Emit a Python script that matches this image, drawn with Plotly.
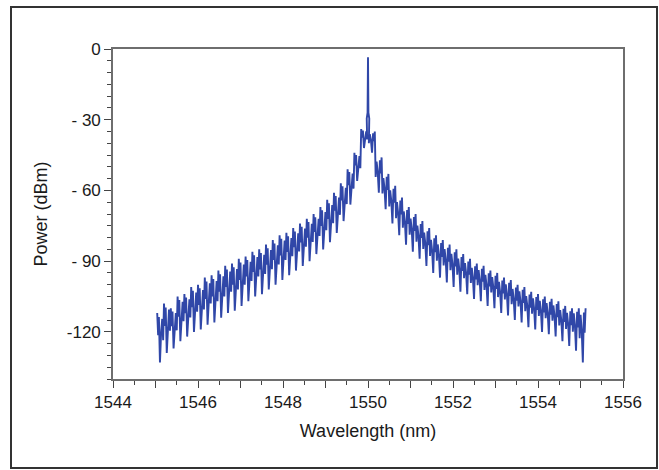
import plotly.graph_objects as go

# ---- data ----
carrier_wl = 1550.00
carrier_peak = -3.5
carrier_base = -27.0
carrier_shoulder = -29.5

left_wl = [1545.04, 1545.20, 1545.36, 1545.52, 1545.68, 1545.84, 1546.00, 1546.16,
           1546.32, 1546.48, 1546.64, 1546.80, 1546.96, 1547.12, 1547.28, 1547.44,
           1547.60, 1547.76, 1547.92, 1548.08, 1548.24, 1548.40, 1548.56, 1548.72,
           1548.88, 1549.04, 1549.20, 1549.36, 1549.52, 1549.68, 1549.84]
left_upper = [-112, -108, -110, -105, -104, -101, -100, -97, -96, -94, -92, -91, -89, -88,
              -86, -85, -83, -81, -79, -78, -76, -74, -72, -70, -67, -64, -61, -57, -51,
              -44, -34]
left_lower = [-133, -129, -127, -124, -122, -120, -119, -117, -116, -114, -112, -111, -109,
              -107, -105, -104, -102, -100, -98, -96, -94, -92, -90, -87, -85, -82, -78,
              -73, -66, -56, -42]

right_wl = [1550.16, 1550.32, 1550.48, 1550.64, 1550.80, 1550.96, 1551.12, 1551.28,
            1551.44, 1551.60, 1551.76, 1551.92, 1552.08, 1552.24, 1552.40, 1552.56,
            1552.72, 1552.88, 1553.04, 1553.20, 1553.36, 1553.52, 1553.68, 1553.84,
            1554.00, 1554.16, 1554.32, 1554.48, 1554.64, 1554.80, 1554.96, 1555.12]
right_upper = [-35, -46, -53, -58, -63, -67, -70, -73, -76, -79, -81, -83, -85, -87, -89,
               -91, -92, -94, -95, -97, -98, -100, -101, -103, -104, -105, -106, -107,
               -109, -110, -110, -110]
right_lower = [-44, -61, -68, -74, -79, -83, -86, -89, -92, -95, -97, -99, -101, -103, -104,
               -106, -107, -109, -110, -112, -113, -115, -116, -118, -119, -120, -121, -122,
               -124, -126, -128, -133]

x_tick_vals = [1544, 1545, 1546, 1547, 1548, 1549, 1550, 1551, 1552, 1553, 1554, 1555, 1556]
x_tick_text = ["1544", "", "1546", "", "1548", "", "1550", "", "1552", "", "1554", "", "1556"]
y_tick_vals = [0, -30, -60, -90, -120]
y_tick_text = ["0", "- 30", "- 60", "- 90", "-120"]

# ---- drawing style: fine structure inside one comb period ----
# (offset in nm from the tooth, fraction of the way from peak to dip)
PERIOD_SHAPE = [(0.000, 0.00), (0.022, 0.45), (0.040, 0.08), (0.065, 1.00),
                (0.092, 0.40), (0.118, 0.12), (0.140, 0.55)]

xs, ys = [], []
for w, u, l in zip(left_wl, left_upper, left_lower):
    for off, frac in PERIOD_SHAPE:
        xs.append(w + off)
        ys.append(u + frac * (l - u))
xs += [carrier_wl - 0.03, carrier_wl - 0.01, carrier_wl, carrier_wl + 0.01, carrier_wl + 0.03]
ys += [carrier_shoulder, carrier_base, carrier_peak, carrier_base, carrier_shoulder]
for w, u, l in zip(right_wl, right_upper, right_lower):
    for off, frac in reversed(PERIOD_SHAPE):
        xs.append(w - off)
        ys.append(u + frac * (l - u))

fig = go.Figure()
fig.add_trace(go.Scatter(x=xs, y=ys, mode="lines",
                         line=dict(color="#3047a8", width=1.9),
                         hoverinfo="skip", showlegend=False))

font_family = "Liberation Sans, Arial, sans-serif"
axis_common = dict(showline=True, linecolor="#6e6e6e", linewidth=1.6, mirror=True,
                   ticks="outside", tickcolor="#444", tickwidth=1.2, ticklen=7,
                   showgrid=False, zeroline=False,
                   tickfont=dict(family=font_family, size=17, color="#1a1a1a"))

fig.update_layout(
    width=659, height=470,
    margin=dict(l=113, r=36, t=49, b=91),
    paper_bgcolor="white", plot_bgcolor="white",
    xaxis=dict(range=[1544, 1556], tickmode="array", tickvals=x_tick_vals,
               ticktext=x_tick_text,
               minor=dict(dtick=0.5, tick0=1544, ticks="outside", ticklen=4,
                          tickcolor="#444", tickwidth=1),
               title=dict(text="Wavelength (nm)", standoff=13,
                          font=dict(family=font_family, size=18, color="#1a1a1a")),
               **axis_common),
    yaxis=dict(range=[-140, 0], tickmode="array", tickvals=y_tick_vals,
               ticktext=y_tick_text,
               minor=dict(dtick=5, tick0=0, ticks="outside", ticklen=4,
                          tickcolor="#444", tickwidth=1),
               title=dict(text="Power (dBm)", standoff=14,
                          font=dict(family=font_family, size=18, color="#1a1a1a")),
               **axis_common),
    shapes=[dict(type="rect", xref="paper", yref="paper",
                 x0=(11 - 113) / 510, x1=(657 - 113) / 510,
                 y0=(379 - 468) / 330, y1=(379 - 7) / 330,
                 line=dict(color="#333", width=2), fillcolor="rgba(0,0,0,0)",
                 layer="below")],
)

fig.write_html("out.html")
